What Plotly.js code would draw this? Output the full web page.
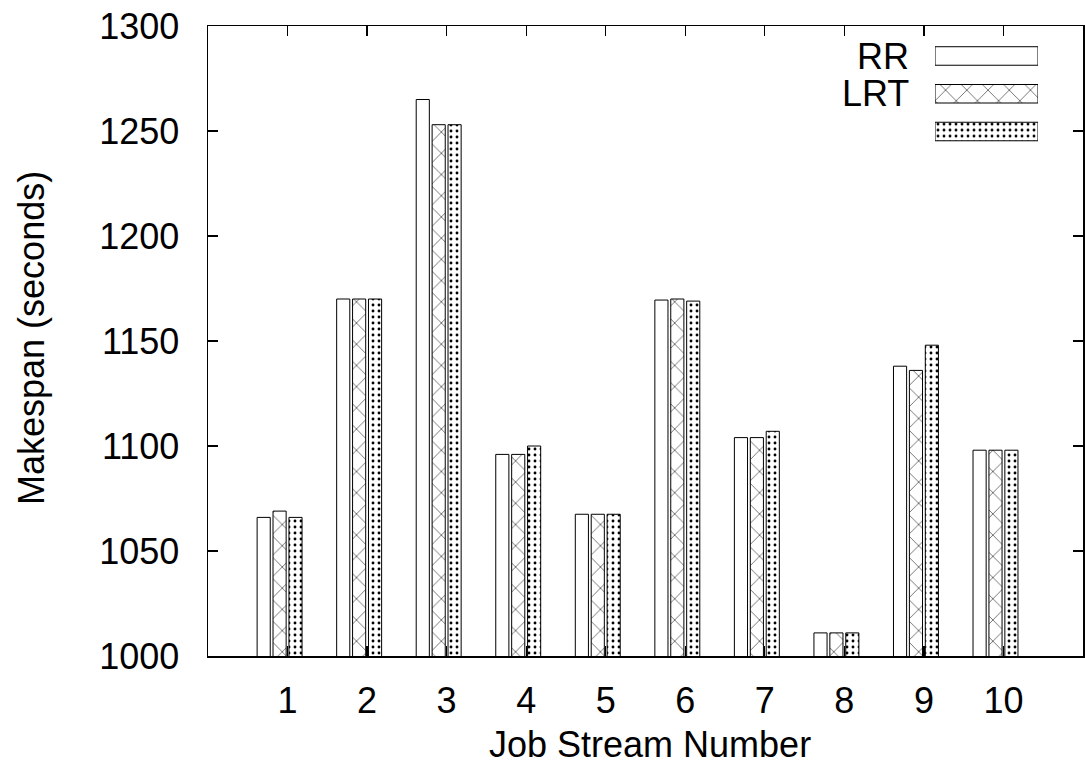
<!DOCTYPE html>
<html>
<head>
<meta charset="utf-8">
<script src="https://cdn.plot.ly/plotly-3.0.1.min.js"></script>
<style>
  html, body { margin: 0; padding: 0; background: #fff; }
  #chart { width: 1085px; height: 772px; }
</style>
</head>
<body>
<div id="chart"></div>
<script>
// ---- data ----
const jobStreams = [1, 2, 3, 4, 5, 6, 7, 8, 9, 10];
const rrValues   = [1066, 1170, 1265, 1096, 1067.5, 1169.5, 1104, 1011, 1138, 1098];
const lrtValues  = [1069, 1170, 1253, 1096, 1067.5, 1170, 1104, 1011, 1136, 1098];
const thirdValues= [1066, 1170, 1253, 1100, 1067.5, 1169, 1107, 1011, 1148, 1098];
const seriesNames = ['RR', 'LRT', ''];
const yTickVals = [1000, 1050, 1100, 1150, 1200, 1250, 1300];

// ---- styles ----
const FONT = 'Liberation Sans, Arial, Helvetica, sans-serif';
const barWidth = 0.165;
const offsets = [-0.3, -0.1, 0.1];
const patterns = [
  {shape: '', fgcolor: 'black', bgcolor: 'white'},
  {shape: 'x', size: 15, solidity: 0.07, fgcolor: 'black', bgcolor: 'white'},
  {shape: '.', size: 6, solidity: 0.18, fgcolor: 'black', bgcolor: 'white'}
];
const seriesValues = [rrValues, lrtValues, thirdValues];

const traces = [];
seriesValues.forEach((vals, i) => {
  traces.push({
    type: 'bar',
    x: jobStreams.map(v => v + offsets[i]),
    y: vals,
    width: barWidth,
    name: seriesNames[i],
    showlegend: false,
    marker: {color: 'white', pattern: patterns[i], line: {color: 'black', width: 1}},
    xaxis: 'x', yaxis: 'y',
    hoverinfo: 'skip'
  });
  // legend key drawn on a small helper axis
  traces.push({
    type: 'bar',
    orientation: 'h',
    x: [1],
    y: [i],
    base: 0,
    width: 0.49,
    showlegend: false,
    marker: {color: 'white', pattern: patterns[i], line: {color: 'black', width: 1}},
    xaxis: 'x2', yaxis: 'y2',
    hoverinfo: 'skip'
  });
});

const plotLeft = 208, plotRight = 1083, plotTop = 26, plotBottom = 656;
const pw = plotRight - plotLeft, ph = plotBottom - plotTop;
const px = x => (x - plotLeft) / pw;
const py = y => (plotBottom - y) / ph;

const annotations = [
  {text: 'Job Stream Number', xref: 'paper', yref: 'paper', x: px(650), y: py(744),
   xanchor: 'center', yanchor: 'middle', showarrow: false, font: {family: FONT, size: 36, color: 'black'}},
  {text: 'Makespan (seconds)', xref: 'paper', yref: 'paper', x: px(31), y: py(338),
   xanchor: 'center', yanchor: 'middle', textangle: -90, showarrow: false, font: {family: FONT, size: 36, color: 'black'}}
];
const legendRowY = [56, 93.5, 131.5];
seriesNames.forEach((n, i) => {
  if (n) annotations.push({text: n, xref: 'paper', yref: 'paper', x: px(911), y: py(legendRowY[i]),
    xanchor: 'right', yanchor: 'middle', showarrow: false, font: {family: FONT, size: 36, color: 'black'}});
});

const layout = {
  width: 1085, height: 772,
  margin: {l: plotLeft, r: 1085 - plotRight, t: plotTop, b: 772 - plotBottom, pad: 0},
  paper_bgcolor: 'white', plot_bgcolor: 'white',
  showlegend: false,
  barmode: 'overlay',
  font: {family: FONT, size: 36, color: 'black'},
  xaxis: {
    range: [0, 11], tickvals: jobStreams, ticktext: jobStreams.map(String),
    ticks: 'inside', ticklen: 10, tickwidth: 1.2, tickcolor: 'black',
    showline: true, linecolor: 'black', linewidth: 1.5, mirror: 'ticks',
    showgrid: false, zeroline: false, ticklabelstandoff: 12,
    tickfont: {family: FONT, size: 36, color: 'black'}
  },
  yaxis: {
    range: [1000, 1300], tickvals: yTickVals,
    ticks: 'inside', ticklen: 10, tickwidth: 1.2, tickcolor: 'black',
    showline: true, linecolor: 'black', linewidth: 1.5, mirror: 'ticks',
    showgrid: false, zeroline: false, ticklabelstandoff: 20,
    tickfont: {family: FONT, size: 36, color: 'black'}
  },
  xaxis2: {domain: [px(935), px(1038)], range: [0, 1], anchor: 'y2', visible: false, fixedrange: true},
  yaxis2: {domain: [py(150.4), py(37.1)], range: [2.5, -0.5], anchor: 'x2', visible: false, fixedrange: true},
  annotations: annotations
};

Plotly.newPlot('chart', traces, layout, {displayModeBar: false, staticPlot: true});
</script>
</body>
</html>
